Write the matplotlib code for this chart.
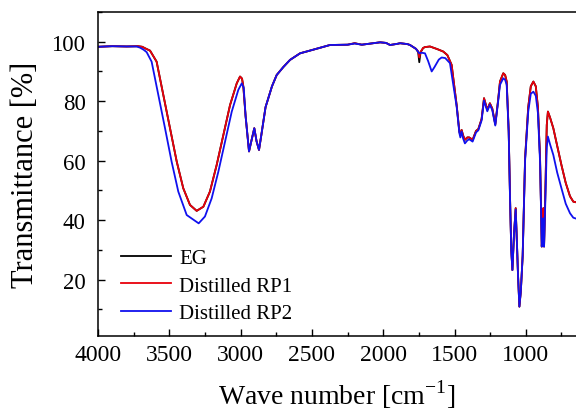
import matplotlib
matplotlib.use("Agg")
import matplotlib.pyplot as plt
from matplotlib.ticker import MultipleLocator

plt.rcParams['font.family'] = ['Liberation Serif', 'DejaVu Serif']
plt.rcParams['mathtext.fontset'] = 'custom'
plt.rcParams['mathtext.rm'] = 'Liberation Serif'

# ---- data ----
rp1_wn = [4000, 3900, 3800, 3720, 3690, 3670, 3635, 3589, 3542, 3495, 3448, 3402, 3355,
          3308, 3261, 3215, 3168, 3121, 3074, 3027, 3004, 2990, 2981, 2965, 2941, 2925,
          2904, 2888, 2871, 2855, 2825, 2780, 2747, 2700, 2653, 2583, 2500, 2373, 2250,
          2200, 2150, 2022, 1980, 1952, 1900, 1882, 1830, 1812, 1770, 1755, 1747, 1738,
          1720, 1707, 1672, 1620, 1579, 1550, 1520, 1485, 1466, 1459, 1450, 1440, 1427,
          1410, 1397, 1373, 1349, 1333, 1310, 1293, 1270, 1252, 1235, 1214, 1195, 1181,
          1158, 1145, 1134, 1120, 1111, 1102, 1094, 1083, 1071, 1062, 1055, 1045, 1035,
          1022, 1005, 983, 965, 947, 930, 915, 900, 888, 882, 877, 872, 865, 853, 845,
          830, 807, 780, 750, 720, 690, 667, 648]
rp1_T = [98.3, 98.5, 98.4, 98.5, 98.3, 97.8, 97.0, 93.3, 82.1, 70.9, 59.7, 50.7, 45.1,
         43.1, 44.5, 49.6, 58.5, 68.6, 78.7, 86.0, 88.3, 87.6, 85.0, 75.0, 63.1, 66.5,
         70.9, 66.5, 63.6, 68.5, 78.0, 85.0, 88.8, 91.5, 93.9, 96.1, 97.2, 98.9, 99.0,
         99.5, 99.0, 99.8, 99.6, 98.9, 99.3, 99.5, 99.2, 98.9, 97.6, 96.8, 94.7, 96.6,
         97.9, 98.2, 98.4, 97.5, 96.7, 95.5, 92.2, 78.7, 69.8, 68.6, 70.3, 68.5, 67.0,
         67.8, 67.8, 67.0, 70.0, 70.6, 74.0, 81.0, 77.1, 79.3, 77.5, 72.2, 80.0, 86.6,
         89.4, 88.8, 86.6, 70.0, 48.5, 30.0, 23.2, 35.0, 44.0, 32.0, 22.0, 10.9, 16.0,
         28.0, 60.8, 78.0, 85.0, 86.6, 85.0, 78.0, 60.8, 31.1, 38.0, 44.0, 31.1, 45.0,
         72.0, 76.5, 74.5, 70.9, 65.0, 58.5, 52.5, 48.0, 46.2, 46.0]

eg_wn = rp1_wn
eg_T = [98.3, 98.5, 98.4, 98.5, 98.3, 97.8, 97.0, 93.3, 82.1, 70.9, 59.7, 50.7, 45.1,
        43.1, 44.5, 49.6, 58.5, 68.6, 78.7, 86.0, 88.3, 87.6, 85.0, 75.0, 63.1, 66.5,
        70.9, 66.5, 63.6, 68.5, 78.0, 85.0, 88.8, 91.5, 93.9, 96.1, 97.2, 98.9, 99.0,
        99.5, 99.0, 99.8, 99.6, 98.9, 99.3, 99.5, 99.2, 98.9, 97.6, 96.5, 93.1, 96.4,
        97.9, 98.2, 98.4, 97.5, 96.7, 95.5, 92.2, 78.7, 69.8, 68.6, 70.3, 68.5, 67.0,
        67.8, 67.8, 67.0, 70.0, 70.6, 74.0, 81.0, 77.1, 79.3, 77.5, 72.2, 80.0, 86.6,
        89.4, 88.8, 86.6, 70.0, 48.5, 30.0, 23.2, 35.0, 44.0, 32.0, 22.0, 10.9, 16.0,
        28.0, 60.8, 78.0, 85.0, 86.6, 85.0, 78.0, 60.8, 31.1, 38.0, 44.0, 31.1, 45.0,
        72.0, 76.5, 74.5, 70.9, 65.0, 58.5, 52.5, 48.0, 46.2, 46.0]

rp2_wn = [4000, 3900, 3800, 3730, 3705, 3680, 3659, 3624, 3577, 3530, 3484, 3437, 3378,
          3294, 3250, 3203, 3156, 3109, 3062, 3016, 2992, 2978, 2965, 2941, 2925, 2904,
          2888, 2871, 2855, 2825, 2780, 2747, 2700, 2653, 2583, 2500, 2373, 2250, 2200,
          2150, 2022, 1980, 1952, 1900, 1882, 1830, 1812, 1770, 1747, 1731, 1707, 1685,
          1660, 1640, 1610, 1590, 1565, 1532, 1485, 1466, 1459, 1450, 1440, 1427, 1410,
          1397, 1373, 1349, 1333, 1310, 1293, 1270, 1252, 1235, 1214, 1195, 1181, 1158,
          1145, 1134, 1120, 1111, 1102, 1094, 1083, 1071, 1062, 1055, 1045, 1035, 1022,
          1005, 983, 965, 947, 930, 915, 900, 888, 882, 877, 872, 865, 853, 845, 830,
          807, 780, 750, 720, 690, 667, 648]
rp2_T = [98.3, 98.5, 98.4, 98.4, 98.0, 97.3, 96.5, 93.3, 82.1, 70.9, 59.7, 49.6, 41.7,
         38.9, 41.2, 47.3, 56.3, 66.4, 76.5, 83.8, 86.0, 84.5, 75.0, 63.1, 66.5, 70.9,
         66.5, 63.6, 68.5, 78.0, 85.0, 88.8, 91.5, 93.9, 96.1, 97.2, 98.9, 99.0, 99.4,
         99.0, 99.8, 99.6, 98.9, 99.3, 99.5, 99.2, 98.9, 97.6, 96.1, 96.3, 96.1, 93.5,
         90.0, 91.5, 94.0, 94.7, 94.5, 92.8, 78.2, 69.3, 67.8, 69.8, 67.5, 65.8, 66.8,
         67.2, 66.4, 69.5, 70.2, 73.5, 80.2, 76.6, 78.8, 77.0, 71.8, 79.5, 85.5, 87.7,
         87.2, 85.5, 69.5, 48.0, 29.8, 23.2, 35.0, 43.5, 32.0, 22.0, 10.9, 16.0, 28.0,
         60.0, 76.5, 82.5, 83.2, 81.8, 76.0, 59.5, 31.1, 36.5, 40.6, 31.1, 43.0, 64.5,
         68.1, 65.5, 61.9, 56.0, 50.7, 45.5, 42.3, 40.8, 40.5]

labels = ["EG", "Distilled RP1", "Distilled RP2"]

fig = plt.figure(figsize=(5.76, 4.14), dpi=100)
ax = fig.add_axes([98/576, 77/414, 1 - 98/576, (337-13)/414])

ax.plot(eg_wn, eg_T, color='black', lw=1.3, label=labels[0])
ax.plot(rp1_wn, rp1_T, color='#e8000b', lw=1.3, label=labels[1])
ax.plot(rp2_wn, rp2_T, color='#1010ee', lw=1.3, label=labels[2])

ax.set_xlim(4000, 648)
ax.set_ylim(1, 110)
ax.xaxis.set_major_locator(MultipleLocator(500))
ax.xaxis.set_minor_locator(MultipleLocator(250))
ax.yaxis.set_major_locator(MultipleLocator(20))
ax.yaxis.set_minor_locator(MultipleLocator(10))
ax.set_yticks([20, 40, 60, 80, 100])
ax.tick_params(which='both', direction='in', top=False, right=False, width=1.0)
ax.tick_params(which='major', length=5)
ax.tick_params(which='minor', length=3)
ax.tick_params(axis='x', which='major', labelsize=17, pad=6)
ax.tick_params(axis='y', which='major', labelsize=16.5, pad=9)
ax.spines['right'].set_visible(False)
for s in ['left', 'bottom', 'top']:
    ax.spines[s].set_linewidth(1.1)

ax.set_xlabel(r'Wave number [cm$^{\mathregular{-1}}$]', fontsize=20, labelpad=9)
ax.set_ylabel('Transmittance [%]', fontsize=22, labelpad=8)

ax.legend(loc='lower left', bbox_to_anchor=(0.017, -0.005), frameon=False, fontsize=15,
          handlelength=2.4, handletextpad=0.4, labelspacing=0.37, borderaxespad=0.3)

fig.savefig('out.png', dpi=100)
